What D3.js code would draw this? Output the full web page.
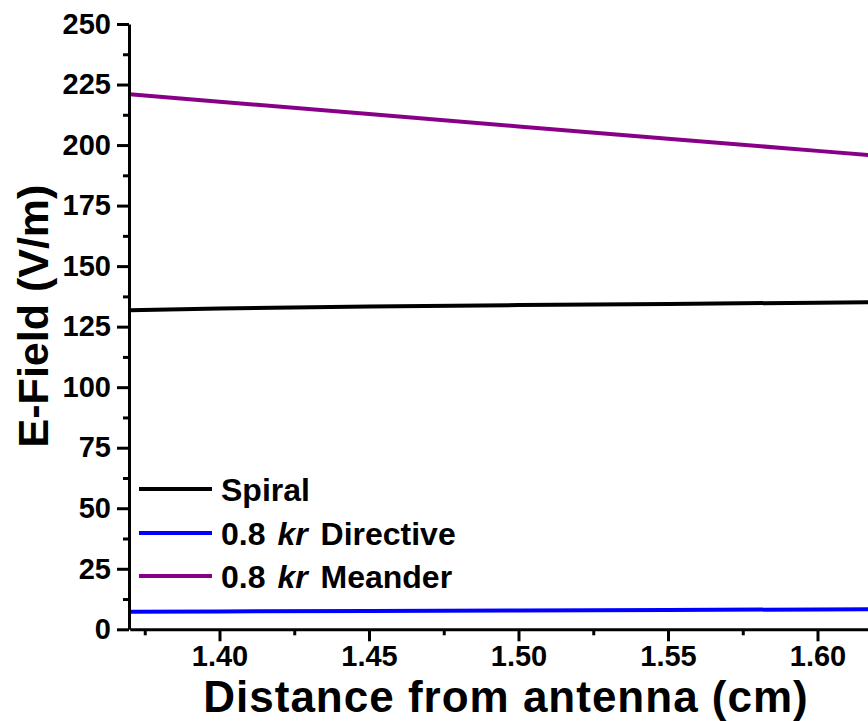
<!DOCTYPE html>
<html>
<head>
<meta charset="utf-8">
<script src="https://cdn.jsdelivr.net/npm/d3@7"></script>
<style>
  html, body { margin: 0; padding: 0; background: #fff; overflow: hidden; }
  svg { display: block; font-family: "Liberation Sans", Arial, Helvetica, sans-serif; font-weight: bold; }
</style>
</head>
<body>
<svg id="chart" width="868" height="721"></svg>
<script>
// Distance from antenna (cm)
const distance = [1.37, 1.40, 1.45, 1.50, 1.55, 1.60, 1.62];
// E-field magnitude (V/m) for each antenna
const spiral    = [131.8, 132.5, 133.3, 133.9, 134.4, 134.9, 135.1];
const directive = [7.3, 7.4, 7.6, 7.8, 8.0, 8.2, 8.3];
const meander   = [221.0, 217.9, 212.8, 207.7, 202.6, 197.6, 195.6];

const seriesNames  = ["Spiral", "Directive", "Meander"];
const seriesColors = ["#000000", "#0000ff", "#880088"];
const xTicks = [1.40, 1.45, 1.50, 1.55, 1.60];
const yTicks = [0, 25, 50, 75, 100, 125, 150, 175, 200, 225, 250];

const svg = d3.select("#chart");

const x = d3.scaleLinear().domain([1.37, 1.65]).range([129.8, 967]);
const y = d3.scaleLinear().domain([0, 250]).range([629.3, 24]);

const plot = svg.append("g");

const line = d3.line()
  .x((d, i) => x(distance[i]))
  .y(d => y(d));

const seriesData = [spiral, directive, meander];
seriesData.forEach((vals, k) => {
  plot.append("path")
    .datum(vals)
    .attr("fill", "none")
    .attr("stroke", seriesColors[k])
    .attr("stroke-width", 4)
    .attr("d", line);
});

// Axes
const xAxis = svg.append("g").attr("transform", `translate(0,${y(0)})`);
xAxis.call(d3.axisBottom(x).tickValues(xTicks).tickFormat(d3.format(".2f")).tickSize(12).tickSizeOuter(0));
const xMinor = svg.append("g").attr("transform", `translate(0,${y(0)})`);
xMinor.call(d3.axisBottom(x).tickValues(d3.range(1.375, 1.65, 0.05)).tickFormat("").tickSize(6).tickSizeOuter(0));
xMinor.select(".domain").remove();

const yAxis = svg.append("g").attr("transform", `translate(${x(1.37) - 0.8},0)`);
yAxis.call(d3.axisLeft(y).tickValues(yTicks).tickSize(12).tickSizeOuter(0));
const yMinor = svg.append("g").attr("transform", `translate(${x(1.37) - 0.8},0)`);
yMinor.call(d3.axisLeft(y).tickValues(d3.range(12.5, 250, 25)).tickFormat("").tickSize(6).tickSizeOuter(0));
yMinor.select(".domain").remove();

[xAxis, xMinor, yAxis, yMinor].forEach(g => {
  g.selectAll(".domain").attr("stroke", "#000").attr("stroke-width", 3);
  g.selectAll(".tick line").attr("stroke", "#000").attr("stroke-width", 3);
});
xAxis.selectAll(".tick text")
  .attr("font-size", 29).attr("font-family", "Liberation Sans, Arial, sans-serif")
  .attr("font-weight", "bold").attr("fill", "#000").attr("y", 16);
yAxis.selectAll(".tick text")
  .attr("font-size", 29).attr("font-family", "Liberation Sans, Arial, sans-serif")
  .attr("font-weight", "bold").attr("fill", "#000").attr("x", -18);

// Axis titles
svg.append("text")
  .attr("x", 506).attr("y", 712)
  .attr("text-anchor", "middle")
  .attr("font-size", 44)
  .attr("letter-spacing", 1)
  .text("Distance from antenna (cm)");

svg.append("text")
  .attr("transform", "translate(48,316) rotate(-90)")
  .attr("text-anchor", "middle")
  .attr("font-size", 43)
  .text("E-Field (V/m)");

// Legend
const legend = svg.append("g");
const legendY = [489, 533, 576];
seriesNames.forEach((name, k) => {
  legend.append("line")
    .attr("x1", 139).attr("x2", 212)
    .attr("y1", legendY[k]).attr("y2", legendY[k])
    .attr("stroke", seriesColors[k]).attr("stroke-width", 4);
  const t = legend.append("text")
    .attr("x", 221).attr("y", legendY[k]).attr("dy", "0.36em")
    .attr("font-size", 32);
  if (k === 0) {
    t.text(name);
  } else {
    t.append("tspan").text("0.8 ");
    t.append("tspan").attr("dx", 3).attr("font-style", "italic").text("kr");
    t.append("tspan").attr("dx", 4).text(" " + name);
  }
});
</script>
</body>
</html>
